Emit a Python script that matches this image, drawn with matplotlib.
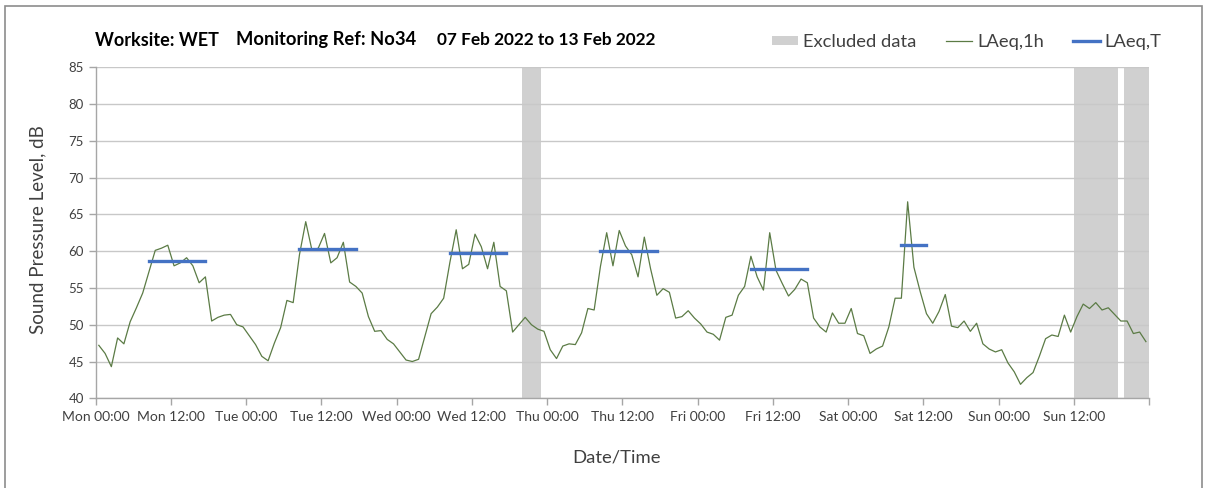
import matplotlib
matplotlib.use("Agg")
import matplotlib.pyplot as plt
from matplotlib.patches import Patch, Rectangle
from matplotlib.lines import Line2D
import numpy as np

plt.rcParams['font.family'] = ['Lato', 'DejaVu Sans']

# hourly LAeq,1h values, Mon 00:00 -> Sun 23:00 (plotted at mid-hour)
laeq_1h = [
    47.2, 46.1, 44.3, 48.2, 47.4, 50.4, 52.3, 54.3, 57.2, 60.1, 60.4, 60.8,
    58.0, 58.4, 59.1, 58.0, 55.7, 56.5, 50.5, 51.0, 51.3, 51.4, 50.0, 49.7,
    48.5, 47.3, 45.7, 45.1, 47.5, 49.6, 53.3, 53.0, 59.5, 64.0, 60.1, 60.4,
    62.4, 58.4, 59.1, 61.2, 55.8, 55.2, 54.3, 51.1, 49.1, 49.2, 48.0, 47.4,
    46.3, 45.2, 45.0, 45.3, 48.4, 51.5, 52.4, 53.6, 58.5, 62.9, 57.6, 58.2,
    62.3, 60.6, 57.6, 61.2, 55.2, 54.6, 49.0, 50.0, 51.0, 50.0, 49.4, 49.1,
    46.6, 45.4, 47.1, 47.4, 47.3, 48.9, 52.2, 52.0, 57.9, 62.5, 58.0, 62.8,
    60.7, 59.5, 56.5, 61.9, 57.6, 54.0, 54.9, 54.4, 50.9, 51.1, 51.9, 50.9,
    50.1, 49.0, 48.7, 47.9, 51.0, 51.3, 54.0, 55.2, 59.3, 56.5, 54.7, 62.5,
    57.4, 55.6, 53.9, 54.8, 56.2, 55.7, 50.9, 49.7, 49.0, 51.6, 50.2, 50.2,
    52.2, 48.8, 48.5, 46.1, 46.7, 47.1, 49.7, 53.6, 53.6, 66.7, 57.8, 54.5,
    51.5, 50.2, 51.8, 54.1, 49.8, 49.6, 50.5, 49.1, 50.2, 47.4, 46.7, 46.3,
    46.6, 44.8, 43.6, 41.9, 42.8, 43.5, 45.7, 48.1, 48.6, 48.4, 51.3, 49.0,
    51.1, 52.8, 52.2, 53.0, 52.0, 52.3, 51.4, 50.5, 50.5, 48.8, 49.0, 47.7,
]

# LAeq,T daytime periods (start hour, end hour, level)
laeqT_start = [8.5, 32.5, 56.5, 80.5, 104.5, 128.5]
laeqT_end = [17.5, 41.5, 65.5, 89.5, 113.5, 132.5]
laeqT_level = [58.7, 60.3, 59.7, 60.0, 57.6, 60.8]

# excluded periods (hours from Mon 00:00)
excl_start = [68, 156, 164]
excl_end = [71, 163, 168]

tick_labels = ['Mon 00:00', 'Mon 12:00', 'Tue 00:00', 'Tue 12:00', 'Wed 00:00',
               'Wed 12:00', 'Thu 00:00', 'Thu 12:00', 'Fri 00:00', 'Fri 12:00',
               'Sat 00:00', 'Sat 12:00', 'Sun 00:00', 'Sun 12:00', '']

green = '#5b7b45'
blue = '#4472c4'
grey = '#d0d0d0'
txt = '#404040'

fig = plt.figure(figsize=(12.08, 4.88), dpi=100)
ax = fig.add_axes([0.0792, 0.1838, 0.872, 0.6787])

hours = np.arange(len(laeq_1h)) + 0.5

for s, e in zip(excl_start, excl_end):
    ax.axvspan(s, e, color=grey, lw=0, zorder=0.3)

ax.plot(hours, laeq_1h, color=green, lw=0.9, zorder=3)
for s, e, v in zip(laeqT_start, laeqT_end, laeqT_level):
    ax.plot([s, e], [v, v], color=blue, lw=2.4, zorder=4, solid_capstyle='projecting')

ax.set_xlim(0, 168)
ax.set_ylim(40, 85)
ax.set_yticks(np.arange(40, 86, 5))
ax.set_xticks(np.arange(0, 169, 12))
ax.set_xticklabels(tick_labels)

ax.set_axisbelow(True)
ax.yaxis.grid(True, color='#c8c8c8', lw=1.0, zorder=0.5)
ax.set_xticks(np.arange(24, 168, 24), minor=True)
ax.xaxis.grid(True, which='minor', color='#dcdcdc', lw=1.0)
ax.tick_params(axis='x', which='minor', length=0)

for sp in ['top', 'right']:
    ax.spines[sp].set_visible(False)
for sp in ['left', 'bottom']:
    ax.spines[sp].set_color('#a6a6a6')
    ax.spines[sp].set_linewidth(1.0)
ax.tick_params(axis='both', which='major', color='#a6a6a6', length=5, width=1,
               labelcolor=txt, labelsize=9.5, direction='out')
ax.tick_params(axis='x', which='major', labelsize=10, pad=4)

ax.set_ylabel('Sound Pressure Level, dB', fontsize=13.5, color=txt)
ax.yaxis.set_label_coords(-0.047, 0.51)
ax.set_xlabel('Date/Time', fontsize=13.3, color=txt)
ax.xaxis.set_label_coords(0.494, -0.155)

# title pieces
ty = 1 - 40 / 488
fig.text(95 / 1208, ty, 'Worksite: WET', fontsize=13, fontweight='bold', va='center')
fig.text(236 / 1208, ty, 'Monitoring Ref: No34', fontsize=13.2, fontweight='bold', va='center')
fig.text(437 / 1208, ty, '07 Feb 2022 to 13 Feb 2022', fontsize=12.4, fontweight='bold', va='center')

handles = [Patch(color=grey, lw=0),
           Line2D([], [], color=green, lw=0.9),
           Line2D([], [], color=blue, lw=2.4)]
fig.legend(handles, ['Excluded data', 'LAeq,1h', 'LAeq,T'], ncol=3,
           loc='center right', bbox_to_anchor=(1174 / 1208, 1 - 42 / 488),
           frameon=False, fontsize=13.2, labelcolor=txt, handlelength=1.45,
           handleheight=0.45, handletextpad=0.25, columnspacing=1.6,
           borderpad=0.2)

fig.patches.append(Rectangle((5 / 1208, -0.1), 1197 / 1208, 1.1 - 6 / 488,
                             transform=fig.transFigure, fill=False,
                             edgecolor='#8c8c8c', lw=1.2))

fig.savefig('out.png', dpi=100)
